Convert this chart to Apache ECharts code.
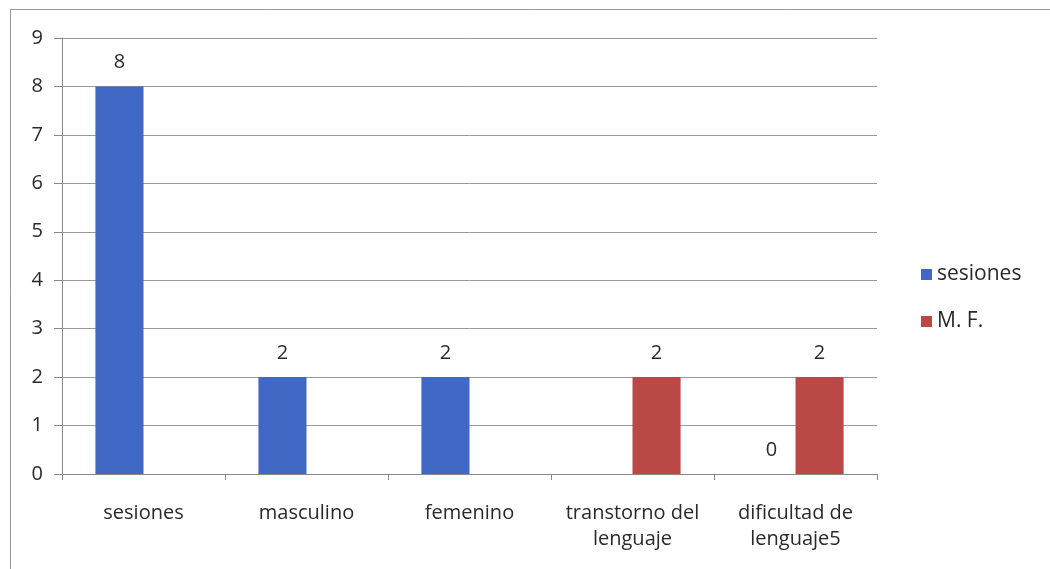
<!DOCTYPE html>
<html><head><meta charset="utf-8">
<script src="https://cdn.jsdelivr.net/npm/echarts@6/dist/echarts.min.js"></script>
<style>html,body{margin:0;padding:0;background:#fff}#c{width:1050px;height:569px}</style>
</head><body><div id="c"></div>
<script>
const categories = ['sesiones', 'masculino', 'femenino', 'transtorno del\nlenguaje', 'dificultad de\nlenguaje5'];
const seriesNames = ['sesiones', 'M. F.'];
const sesionesValues = [8, 2, 2, null, 0];
const mfValues = [null, null, null, 2, 2];
const yTicks = [0, 1, 2, 3, 4, 5, 6, 7, 8, 9];

const font = '"Open Sans", sans-serif';
const txt = '#2a2a2a';
const chart = echarts.init(document.getElementById('c'));
const lbl = {show: true, position: 'top', color: txt, fontSize: 20, fontFamily: font, distance: 14};
chart.setOption({
  animation: false,
  graphic: [{type: 'rect', shape: {x: 10.5, y: 9.5, width: 1100, height: 600}, style: {fill: 'none', stroke: '#999', lineWidth: 1}}],
  grid: {left: 62, right: 173, top: 38, bottom: 95},
  legend: {
    orient: 'vertical', left: 916, top: 259, itemGap: 26, itemWidth: 11, itemHeight: 11,
    icon: 'rect', textStyle: {fontSize: 21, color: txt, fontFamily: font},
    data: seriesNames
  },
  xAxis: {
    type: 'category', data: categories,
    axisLine: {lineStyle: {color: '#888'}},
    axisTick: {show: true, length: 6, lineStyle: {color: '#888'}},
    axisLabel: {color: txt, fontSize: 20, fontFamily: font, margin: 26, lineHeight: 26, interval: 0}
  },
  yAxis: {
    type: 'value', min: yTicks[0], max: yTicks[yTicks.length - 1], interval: 1,
    axisLine: {show: true, lineStyle: {color: '#888'}},
    axisTick: {show: true, length: 8, lineStyle: {color: '#888'}},
    axisLabel: {color: txt, fontSize: 20, fontFamily: font, margin: 19},
    splitLine: {lineStyle: {color: '#999'}}
  },
  series: [
    {name: seriesNames[0], type: 'bar', data: sesionesValues, itemStyle: {color: '#4068C4'},
     barGap: '0%', barCategoryGap: '41%', label: lbl},
    {name: seriesNames[1], type: 'bar', data: mfValues, itemStyle: {color: '#B94846'},
     barGap: '0%', barCategoryGap: '41%', label: lbl}
  ]
});
</script></body></html>
